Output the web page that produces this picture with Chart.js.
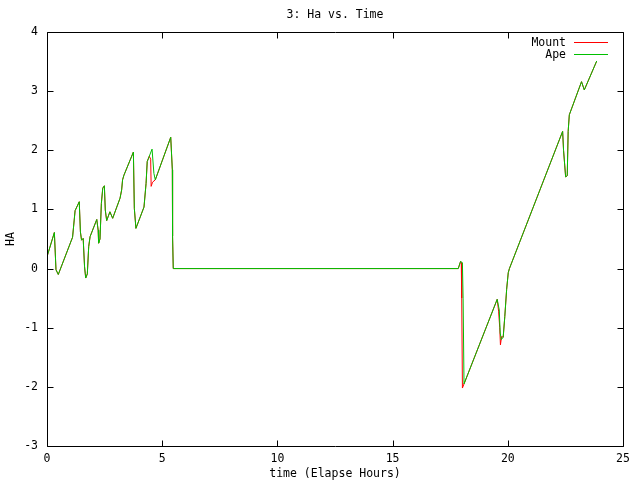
<!DOCTYPE html>
<html>
<head>
<meta charset="utf-8">
<script src="https://cdn.jsdelivr.net/npm/chart.js@4"></script>
<style>
  body { margin: 0; background: #fff; }
  #wrap { width: 640px; height: 480px; position: relative; }
</style>
</head>
<body>
<div id="wrap"><canvas id="haChart"></canvas></div>
<script>
// Chart data
const chartTitle = '3: Ha vs. Time';
const xTitle = 'time (Elapse Hours)';
const yTitle = 'HA';

const apeTime = [0, 0.32, 0.39, 0.49, 1.11, 1.22, 1.40, 1.45, 1.50, 1.57, 1.63, 1.68, 1.75, 1.81, 1.87,
    2.16, 2.22, 2.24, 2.30, 2.36, 2.42, 2.49, 2.53, 2.59, 2.73, 2.85, 3.17, 3.24, 3.28, 3.34,
    3.75, 3.79, 3.86, 4.21, 4.30, 4.35, 4.44, 4.56, 4.64, 4.70, 5.37, 5.44, 5.45, 5.48,
    17.85, 17.95, 18.03, 18.06, 18.10, 19.54, 19.63, 19.67, 19.72, 19.80, 19.87, 19.95, 20.02,
    20.07, 22.38, 22.42, 22.47, 22.51, 22.58, 22.62, 22.67, 23.20, 23.32, 23.86];
const apeHa = [0.20, 0.61, -0.02, -0.10, 0.53, 0.98, 1.13, 0.62, 0.48, 0.51, 0.03, -0.16, -0.09, 0.37, 0.54,
    0.83, 0.65, 0.43, 0.50, 1.10, 1.36, 1.40, 0.99, 0.81, 0.96, 0.85, 1.19, 1.33, 1.50, 1.58,
    1.97, 1.02, 0.68, 1.04, 1.44, 1.81, 1.90, 2.02, 1.61, 1.50, 2.22, 1.67, 0.55, 0.00,
    0.00, 0.12, 0.10, -0.50, -1.95, -0.52, -0.70, -1.09, -1.20, -1.16, -0.81, -0.35, -0.07,
    0.00, 2.32, 2.00, 1.75, 1.55, 1.57, 2.32, 2.60, 3.16, 3.02, 3.51];

const mountTime = [0, 0.32, 0.39, 0.49, 1.11, 1.22, 1.40, 1.45, 1.50, 1.57, 1.63, 1.68, 1.75, 1.81, 1.87,
    2.16, 2.22, 2.24, 2.30, 2.36, 2.42, 2.49, 2.53, 2.59, 2.73, 2.85, 3.17, 3.24, 3.28, 3.34,
    3.75, 3.79, 3.86, 4.21, 4.30, 4.35, 4.44, 4.50, 4.52, 4.58, 4.70, 5.37, 5.44, 5.45, 5.48,
    17.85, 17.95, 17.98, 18.00, 18.03, 19.54, 19.60, 19.65, 19.68, 19.73, 19.80, 19.87, 19.95, 20.02,
    20.07, 22.38, 22.42, 22.47, 22.51, 22.58, 22.62, 22.67, 23.20, 23.32, 23.86];
const mountHa = [0.20, 0.61, -0.02, -0.10, 0.53, 0.98, 1.13, 0.62, 0.48, 0.51, 0.03, -0.16, -0.09, 0.37, 0.54,
    0.83, 0.65, 0.43, 0.50, 1.10, 1.36, 1.40, 0.99, 0.81, 0.96, 0.85, 1.19, 1.33, 1.50, 1.58,
    1.97, 1.02, 0.68, 1.04, 1.44, 1.81, 1.90, 1.85, 1.39, 1.46, 1.50, 2.22, 1.67, 0.55, 0.00,
    0.00, 0.12, 0.10, -0.50, -2.02, -0.52, -0.72, -1.00, -1.29, -1.15, -1.16, -0.81, -0.35, -0.07,
    0.00, 2.32, 2.00, 1.75, 1.55, 1.57, 2.32, 2.60, 3.16, 3.02, 3.51];

const xMin = 0, xMax = 25, xStep = 5;
const yMin = -3, yMax = 4, yStep = 1;

const FONT = '"DejaVu Sans Mono", "Liberation Mono", monospace';

const toPoints = (ts, vs) => ts.map((t, i) => ({ x: t, y: vs[i] }));

// gnuplot look: frame, inward ticks on all sides, title and key
const gnuplotFrame = {
    id: 'gnuplotFrame',
    afterDraw(chart) {
        const { ctx, chartArea: a, scales: { x, y } } = chart;
        const L = Math.round(a.left) + 0.5, R = Math.round(a.right) + 0.5;
        const T = Math.round(a.top) + 0.5, B = Math.round(a.bottom) + 0.5;
        const tick = 6;
        ctx.save();
        ctx.strokeStyle = '#000';
        ctx.lineWidth = 1;
        ctx.beginPath();
        ctx.rect(L, T, R - L, B - T);
        for (let v = xMin; v <= xMax; v += xStep) {
            const px = Math.round(x.getPixelForValue(v)) + 0.5;
            ctx.moveTo(px, B); ctx.lineTo(px, B - tick);
            ctx.moveTo(px, T); ctx.lineTo(px, T + tick);
        }
        for (let v = yMin; v <= yMax; v += yStep) {
            const py = Math.round(y.getPixelForValue(v)) + 0.5;
            ctx.moveTo(L, py); ctx.lineTo(L + tick, py);
            ctx.moveTo(R, py); ctx.lineTo(R - tick, py);
        }
        ctx.stroke();

        ctx.fillStyle = '#000';
        ctx.font = '11.5px ' + FONT;
        ctx.textAlign = 'center';
        ctx.textBaseline = 'middle';
        ctx.fillText(chartTitle, (a.left + a.right) / 2, 15);

        // key, top right, text right-aligned with sample line after it
        ctx.textAlign = 'right';
        const keyOrder = ['Mount', 'Ape'];
        keyOrder.forEach((name, i) => {
            const ds = chart.data.datasets.find(d => d.label === name);
            const ky = 43 + i * 12;
            ctx.fillStyle = '#000';
            ctx.fillText(name, 566, ky);
            ctx.strokeStyle = ds.borderColor;
            ctx.beginPath();
            ctx.moveTo(574, ky - 0.5);
            ctx.lineTo(608, ky - 0.5);
            ctx.stroke();
        });
        ctx.restore();
    }
};

const ctx = document.getElementById('haChart').getContext('2d');
new Chart(ctx, {
    type: 'line',
    data: {
        datasets: [
            {
                label: 'Mount',
                data: toPoints(mountTime, mountHa),
                borderColor: '#ff0000',
                borderWidth: 1,
                pointRadius: 0,
                tension: 0,
                fill: false,
                order: 1
            },
            {
                label: 'Ape',
                data: toPoints(apeTime, apeHa),
                borderColor: '#00c000',
                borderWidth: 1,
                pointRadius: 0,
                tension: 0,
                fill: false,
                order: 0
            }
        ]
    },
    options: {
        responsive: true,
        maintainAspectRatio: false,
        animation: false,
        layout: { padding: { top: 32, right: 17, left: 0, bottom: 0 } },
        plugins: {
            legend: { display: false },
            title: { display: false },
            tooltip: { enabled: false }
        },
        scales: {
            x: {
                type: 'linear',
                min: xMin,
                max: xMax,
                grid: { display: false, drawTicks: false },
                border: { display: false },
                ticks: {
                    stepSize: xStep,
                    padding: 6,
                    color: '#000',
                    maxRotation: 0,
                    font: { family: FONT, size: 11.5 }
                },
                title: {
                    display: true,
                    text: xTitle,
                    color: '#000',
                    padding: { top: 0, bottom: -1 },
                    font: { family: FONT, size: 11.5 }
                },
                afterFit: s => { s.height = 34; }
            },
            y: {
                type: 'linear',
                min: yMin,
                max: yMax,
                grid: { display: false, drawTicks: false },
                border: { display: false },
                ticks: {
                    stepSize: yStep,
                    padding: 9,
                    color: '#000',
                    font: { family: FONT, size: 11.5 }
                },
                title: {
                    display: true,
                    text: yTitle,
                    color: '#000',
                    padding: { top: 4, bottom: 0 },
                    font: { family: FONT, size: 11.5 }
                },
                afterFit: s => { s.width = 47; }
            }
        }
    },
    plugins: [gnuplotFrame]
});
</script>
</body>
</html>
